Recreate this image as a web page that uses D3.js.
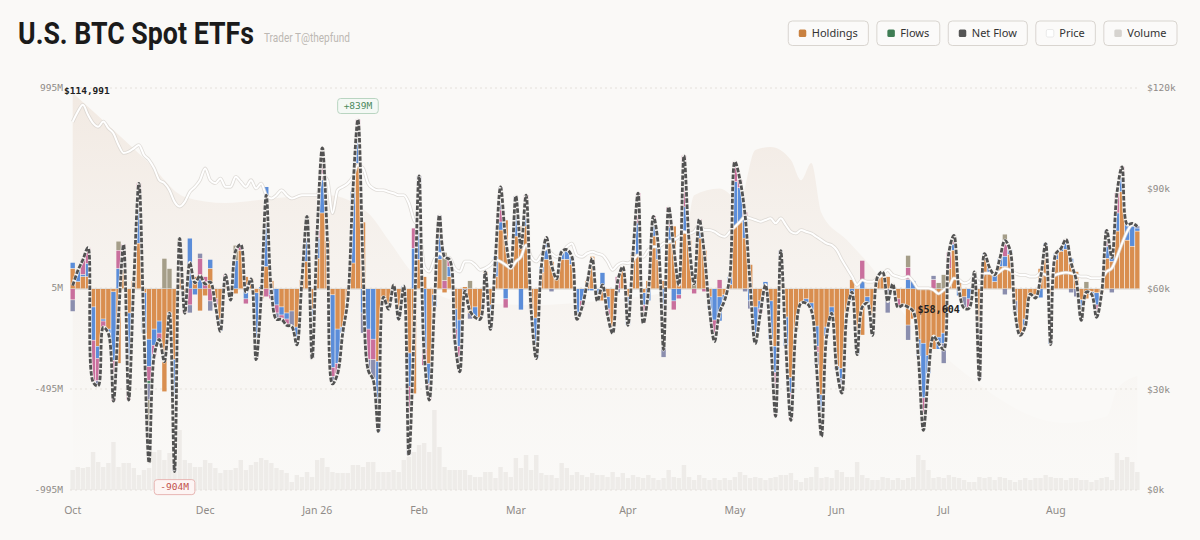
<!DOCTYPE html>
<html>
<head>
<meta charset="utf-8">
<title>U.S. BTC Spot ETFs</title>
<script src="https://cdn.jsdelivr.net/npm/d3@7"></script>
<style>
  html, body { margin: 0; padding: 0; background: #faf9f7; }
  svg { display: block; }
  .axis-label { font: 9.5px "DejaVu Sans Mono", monospace; fill: #8f8b87; }
  .month { font: 10.5px "Noto Sans", sans-serif; fill: #8f8b87; }
  .legend text { font: 11px "Noto Sans", sans-serif; fill: #333; }
</style>
</head>
<body>
<svg id="chart" width="1200" height="540"></svg>
<script>
// trading calendar
const startDay = '2025-10-23', endDay = '2026-08-25'
const holidays = ['2025-11-27', '2025-12-25', '2026-01-01', '2026-01-19', '2026-02-16',
                  '2026-04-03', '2026-05-25', '2026-06-19', '2026-07-03']
const monthLabels = [['2025-10', 'Oct'], ['2025-12', 'Dec'], ['2026-01', 'Jan 26'], ['2026-02', 'Feb'],
                     ['2026-03', 'Mar'], ['2026-04', 'Apr'], ['2026-05', 'May'], ['2026-06', 'Jun'],
                     ['2026-07', 'Jul'], ['2026-08', 'Aug']]

// daily flows per fund, $M
const ibit = [
  100, 35, 60, 60, -90, -285, -150, -200, -15, -370,
  120, -120, 40, 225, -20, -250, -200, -160, -510, -120,
  -350, 60, -100, 0, 60, -110, -35, 100, -50, -150,
  30, -45, -25, 190, 60, 50, -20, -50, 110, 40,
  0, -90, -120, -110, -190, 45, 135, -100, 150, 375,
  240, -30, -200, -190, -55, 127, 620, 330, 0, 0,
  -360, -40, -100, 20, -100, 0, -318, -520, 145, 60,
  -370, -30, 145, -20, 60, -100, -155, 10, -120, -90,
  -150, 85, -80, 60, 290, 340, 110, 260, 310, 310,
  -105, -145, 80, 145, 135, 50, 145, 145, 120, 0,
  0, 40, 160, 0, -60, -40, -220, 0, 110, -40,
  170, 170, -20, 40, 260, 145, 40, 225, 310, 70,
  275, 240, 0, 250, 190, -40, 0, -40, -30, 20,
  310, 330, 250, 120, -90, -60, -15, -60, -285, 150,
  -140, -440, -200, -70, -50, -70, -185, -525, -190, -90,
  -385, -395, -120, 45, -210, -230, -40, -200, 60, 70,
  60, 15, -50, -80, -180, -150, -250, -270, -330, -300,
  -240, -220, 100, 190, 30, -40, 0, 60, -185, 145,
  80, 35, 110, 110, 170, -60, -220, -150, -25, -30,
  100, 200, -130, 145, 185, 195, 125, 85, -55, -50,
  -15, -20, -20, 150, 135, 285, 480, 240, 210, 285
]
const fbtc = [
  30, 55, 10, 65, -165, -60, -10, -20, -340, 100,
  50, -250, 0, 165, -200, -135, -80, -60, 0, -100,
  -215, 80, 0, 250, -30, 50, 0, 45, 0, -60,
  0, 0, 140, 0, -50, 0, -230, 10, 395, -30,
  -80, -40, -30, 0, -87, 0, 105, -150, 100, 165,
  0, -360, -170, -30, 0, 355, 130, -120, -200, -250,
  -345, 0, 0, 0, -50, 15, -165, 200, 200, -300,
  -100, -60, 115, 0, 50, -100, -130, 0, 0, -50,
  0, 0, -60, 100, 40, -50, 0, 100, -105, 40,
  0, -200, 30, 80, 0, 0, 40, 50, 40, -120,
  -60, -10, -10, -40, 80, -60, 0, 0, 0, -140,
  10, 155, -60, -60, 65, 65, -280, 80, -60, -30,
  130, 0, 0, 50, 0, -60, -155, -120, -25, 40,
  220, 170, 100, -60, -180, -40, 35, -190, -130, 0,
  -145, -75, 0, 0, -20, -35, -100, -75, -45, -30,
  -15, -50, 0, -60, -115, 40, -30, 0, 0, 0,
  0, 10, 0, 0, 45, 40, -85, -270, -90, 0,
  -60, -50, 0, 30, -35, 0, -50, 0, -215, 30,
  25, 35, 40, 50, 25, 0, -10, -35, 0, 0,
  -45, 25, -145, 30, 15, 30, 25, 0, -65, 0,
  -10, -60, 0, 60, 40, 90, 75, 80, 100, 15
]
const arkb = [
  -55, 0, 75, 80, -205, -110, -30, 0, -200, 90,
  50, -180, 0, 133, 0, -70, -50, -30, 0, 0,
  -100, 0, -20, -80, 0, 100, 60, -60, -30, 0,
  40, 0, 0, 30, -25, 0, -60, 0, -40, -20,
  -40, -20, -30, 0, 0, 0, 85, -50, 40, 100,
  0, -45, -50, 0, 0, 0, 89, 0, -150, -100,
  0, 0, 0, 0, 0, 0, -150, 100, 115, -80,
  -80, 0, 50, 40, 35, -50, -50, 0, 0, 0,
  0, 0, 0, 0, 60, -45, 0, 0, 0, 115,
  0, 0, 0, 0, 0, 0, 0, 0, 0, 0,
  -30, 0, 0, -20, 0, -30, 0, 60, 0, 0,
  0, 150, -90, 0, 35, 0, 0, 100, -45, -20,
  255, 0, -25, 45, -15, 0, -65, 45, 0, 0,
  100, 40, 30, 0, 0, -20, 0, 0, -215, 0,
  0, -135, 0, 0, 0, 0, -30, 0, 0, 0,
  0, 0, 0, 0, 0, 100, 0, 0, 0, 0,
  0, 0, -40, 0, 60, 0, 0, -75, 0, 45,
  0, 0, 80, 20, 0, 0, -45, 0, 0, 0,
  0, 0, 0, 60, 0, 0, 0, 0, 0, -15,
  0, 0, 0, 0, 0, 20, 0, 0, 0, 0,
  0, -60, 0, 40, 0, 100, 50, 0, 0, 0
]
const hodl = [
  0, 0, 0, 0, 0, 0, 0, 0, 0, 0,
  0, 0, 0, 0, 0, -15, 0, 0, 0, 0,
  0, 0, 0, 0, 0, 0, 0, 0, 0, 0,
  0, 0, 0, 0, 0, 0, 0, 0, 0, 0,
  0, 0, 0, 0, 0, 0, 0, 0, 0, 0,
  0, 0, 0, 0, 0, 0, 0, 0, 0, 0,
  0, 0, 0, 0, 0, 0, 0, 0, 0, 0,
  0, 0, 0, 0, 0, 0, 0, 0, 0, 0,
  0, 0, 0, 0, 0, 0, 0, 0, 0, 0,
  0, 0, 0, 0, 0, 0, 0, 0, 0, 0,
  0, 0, 0, 0, 0, 0, 0, 0, 0, 0,
  0, 0, 0, 0, 0, 0, 0, 0, 0, 0,
  0, 0, 0, 0, 0, 0, 0, 0, 0, 0,
  0, 0, 0, 0, 0, 0, 0, 0, 0, 0,
  0, 0, 0, 0, 0, 0, 0, 0, 0, 0,
  0, 0, 0, 0, 0, 0, 0, 0, 0, 0,
  0, 0, 0, 0, 0, 0, 0, -85, 0, 0,
  0, 0, 0, 0, 0, 0, 0, 0, 0, 0,
  0, 0, 0, 0, 0, 0, 0, 0, 0, 0,
  0, 0, 0, 0, 0, 0, 0, 0, 0, 0,
  0, 0, 0, 0, 0, 0, 0, 0, 0, 0
]
const bitb = [
  -58, 0, 0, 0, 0, -25, 0, 0, 0, 0,
  0, 0, 0, 0, 0, -80, 0, 0, 0, 0,
  -239, 30, 0, -40, 0, 25, 0, -50, 0, 0,
  0, -10, 0, 0, 0, 0, -40, 0, 0, 0,
  -30, 0, 0, -75, 0, 0, 0, -45, 0, 0,
  0, -35, 0, 0, 0, 0, 0, -100, -50, -100,
  0, 0, 0, 0, 0, 0, -190, 0, 100, 0,
  0, 0, 55, 0, 0, 0, -75, -20, -30, 0,
  0, 0, -60, 0, 115, 0, 0, 100, 0, 0,
  0, 0, 0, 30, -15, 0, 0, 0, 0, -30,
  0, 0, 0, 0, 0, 0, 0, -20, 0, 0,
  0, 0, 0, 0, 0, 0, -60, 0, 0, 0,
  0, 0, 0, 0, 0, 0, -40, 0, 0, 0,
  0, 0, -15, -40, 0, 0, 0, 0, 0, 40,
  0, 0, 0, 0, 0, 0, -65, -130, 0, 0,
  0, -70, 0, 0, 0, 0, 0, -30, 0, 0,
  -120, 0, 0, 0, -75, 0, 0, 0, 0, 20,
  0, -100, 0, 0, 0, -55, 0, 0, -50, 0,
  0, 0, 0, -30, 0, -60, 0, 0, 0, 0,
  0, 0, 0, 0, 0, 0, -20, -40, -35, 0,
  0, 0, 0, 40, -20, 0, 0, 0, 15, 10
]
const gbtc = [
  0, 0, 0, 0, 0, 0, 0, 0, 0, 45,
  0, 0, 0, 0, 0, -310, 0, 0, 150, 100,
  0, 80, 0, 0, 0, 0, 0, 0, 0, 0,
  0, 0, 75, 0, 0, 0, 0, 0, 0, 0,
  0, 0, 0, 0, 0, 0, 35, 0, 0, 58,
  0, 0, 0, 0, 0, 0, 0, 0, 0, 0,
  0, 0, 0, 0, 0, 0, 0, 0, 0, 0,
  0, 0, 0, 140, 0, 0, 0, 0, 40, 0,
  0, 0, 0, 0, 0, 0, 0, 0, 0, 0,
  0, 0, 0, 0, 0, 0, 0, 0, 0, 0,
  0, 0, 0, 0, 0, 0, 0, 0, 0, 0,
  0, 0, 0, 0, 0, 0, 0, 0, 0, 0,
  0, 0, 50, 0, 0, 0, 0, 0, 0, 0,
  0, 0, 0, 0, 0, 0, 0, 0, 0, 0,
  0, 0, 0, 0, 0, 0, 0, 0, 0, 0,
  0, 0, 0, 0, 0, 0, 0, 0, 0, 15,
  0, 0, 0, 0, 60, 0, 0, 0, 0, 0,
  30, 70, 0, 25, 0, 0, 0, 25, 0, 0,
  0, 0, 0, 50, 0, 0, 0, 0, 0, 0,
  0, 0, 0, 0, 0, 0, 0, 0, 0, 35,
  0, 0, 0, 0, 0, 0, 0, 0, 0, 0
]

// BTC close, $k
const price = [
  109.9, 112.9, 114.991, 112.0, 109.5, 108.4, 110.0, 108.0, 106.5, 103.0,
  100.6, 101.0, 102.0, 103.0, 100.0, 98.5, 96.0, 92.5, 91.6, 89.5,
  86.0, 84.6, 86.0, 89.0, 90.5, 92.5, 96.0, 92.5, 91.6, 93.0,
  90.5, 90.5, 93.5, 92.0, 90.5, 92.5, 90.0, 91.5, 88.0, 87.0,
  88.0, 89.5, 88.0, 87.0, 87.5, 88.0, 88.0, 88.0, 88.0, 94.0,
  92.5, 82.6, 89.5, 90.5, 91.5, 93.5, 97.0, 96.0, 91.5, 90.0,
  89.5, 89.5, 89.0, 88.6, 88.0, 88.0, 85.6, 80.6, 78.6, 66.7,
  65.2, 68.7, 70.6, 69.6, 69.2, 66.2, 65.2, 68.2, 68.2, 67.2,
  65.7, 66.2, 67.2, 68.7, 68.2, 67.2, 66.2, 68.2, 69.6, 73.1,
  69.6, 68.2, 70.1, 72.1, 70.6, 69.6, 70.6, 72.6, 73.6, 70.1,
  69.6, 70.6, 71.1, 70.6, 70.1, 68.2, 65.7, 67.2, 67.9, 67.7,
  68.7, 70.1, 69.6, 71.6, 72.6, 72.6, 73.6, 74.1, 74.6, 75.6,
  77.1, 76.6, 77.1, 79.1, 77.6, 77.6, 77.1, 76.1, 75.6, 77.1,
  78.6, 80.1, 81.6, 81.1, 80.6, 80.1, 80.6, 81.1, 79.6, 81.1,
  79.1, 77.1, 76.6, 77.6, 77.1, 76.6, 75.6, 74.6, 73.6, 73.1,
  71.6, 68.7, 66.2, 63.7, 61.2, 62.7, 62.2, 62.2, 63.2, 64.2,
  65.7, 64.2, 63.7, 63.2, 63.7, 62.2, 60.2, 60.2, 60.2, 59.7,
  58.604, 59.7, 60.7, 63.2, 62.7, 61.7, 62.2, 63.7, 61.7, 64.7,
  64.7, 64.2, 65.2, 66.2, 65.7, 64.7, 64.2, 64.2, 63.7, 63.7,
  64.7, 64.2, 63.2, 64.2, 64.7, 64.9, 64.7, 64.2, 63.7, 63.7,
  63.2, 63.2, 63.2, 65.2, 66.2, 69.6, 73.6, 77.1, 79.1, 79.1
]

// traded volume, $B
const volume = [
  2.0, 2.3, 2.2, 2.3, 3.8, 2.8, 2.3, 2.7, 4.8, 2.3,
  2.7, 2.7, 2.2, 1.5, 2.0, 2.2, 3.8, 4.0, 3.0, 3.7,
  4.3, 6.0, 3.0, 2.7, 2.3, 2.3, 3.0, 2.7, 2.2, 1.7,
  2.0, 2.0, 2.2, 3.0, 2.0, 2.5, 2.8, 3.2, 3.0, 2.7,
  2.2, 2.0, 1.7, 0.8, 1.5, 1.3, 1.8, 1.3, 3.0, 3.2,
  2.3, 1.8, 1.7, 1.7, 1.7, 2.5, 2.5, 2.3, 2.8, 2.8,
  1.8, 1.8, 1.8, 2.0, 1.8, 3.0, 3.3, 3.8, 4.5, 4.7,
  3.8, 8.0, 4.3, 2.3, 2.0, 2.0, 2.0, 2.0, 1.5, 1.3,
  1.3, 1.8, 1.8, 1.2, 2.3, 1.8, 1.3, 3.2, 2.2, 3.5,
  2.0, 3.5, 1.7, 1.5, 1.5, 1.2, 2.7, 2.2, 1.5, 1.8,
  1.5, 1.3, 1.7, 1.5, 1.5, 1.3, 1.8, 1.3, 1.7, 1.2,
  1.5, 1.3, 1.2, 1.5, 1.2, 1.0, 1.2, 2.0, 1.3, 1.2,
  2.5, 1.3, 1.0, 1.5, 1.2, 1.0, 1.2, 1.0, 1.2, 1.0,
  1.3, 1.8, 1.5, 1.2, 1.3, 1.2, 1.0, 1.2, 1.3, 1.5,
  1.5, 1.7, 1.0, 0.8, 1.2, 1.3, 2.3, 1.2, 1.3, 1.2,
  2.0, 1.8, 1.3, 1.3, 2.8, 1.5, 1.2, 1.0, 1.0, 1.3,
  1.2, 1.0, 1.2, 1.0, 1.2, 1.3, 3.5, 3.0, 2.0, 1.2,
  1.3, 1.2, 1.5, 1.3, 1.2, 1.0, 0.8, 0.8, 1.3, 1.2,
  1.3, 1.0, 1.3, 1.2, 1.0, 0.8, 1.0, 1.2, 1.0, 1.2,
  1.2, 1.5, 1.3, 1.2, 1.2, 1.0, 1.2, 1.2, 1.0, 1.0,
  0.8, 1.0, 1.2, 1.3, 1.0, 3.7, 3.0, 3.3, 2.8, 1.8
]

// background holdings shade, read at a few days ($k on price axis)
const shadeDay = [0, 8, 15, 22, 30, 40, 50, 58, 62, 67, 75, 90, 105, 119, 122, 127, 131, 134, 137, 141, 143, 145, 147, 152, 158, 162, 175, 195, 203, 205, 209]
const shadeVal = [118.5, 107.5, 97.6, 87.5, 85.7, 87.2, 88.0, 82.7, 74.6, 64.2, 56.7, 55.2, 56.7, 60.0, 88.0, 90.0, 86.6, 101.5, 102.4, 98.5, 92.5, 97.6, 82.7, 74.6, 64.2, 55.0, 35.0, 20.0, 22.0, 30.0, 34.0]

const leftTicks = [995, 5, -495, -995]
const rightTicks = [0, 30, 60, 90, 120]

const keys = ['ibit', 'fbtc', 'arkb', 'hodl', 'bitb', 'gbtc']
const flows = {ibit, fbtc, arkb, hodl, bitb, gbtc}
const colors = {ibit: '#d98e4f', fbtc: '#5b8dd9', arkb: '#c96f9d', hodl: '#4f8d6c', bitb: '#8b8eae', gbtc: '#a59e89'}
const bg = '#faf9f7'

const fmtDay = d3.utcFormat('%Y-%m-%d'), fmtMonth = d3.utcFormat('%Y-%m')
const holidaySet = new Set(holidays)
const days = d3.utcDays(d3.utcParse('%Y-%m-%d')(startDay), d3.utcDay.offset(d3.utcParse('%Y-%m-%d')(endDay), 1))
    .filter(d => d.getUTCDay() % 6 !== 0 && !holidaySet.has(fmtDay(d)))
    .slice(0, ibit.length)

let rows = days.map((d, i) => {
    let r = {i, date: d}
    keys.forEach(k => r[k] = flows[k][i])
    r.net = d3.sum(keys, k => flows[k][i])
    return r
})

let svg = d3.select('#chart')
svg.append('rect').attr('width', 1200).attr('height', 540).attr('fill', bg)

let x = d3.scaleBand().domain(rows.map(r => r.i)).range([70.5, 1139.5]).paddingInner(0.14).paddingOuter(0)
let cx = i => x(i) + x.bandwidth() / 2
let yFlow = d3.scaleLinear().domain([-995, 995]).range([490, 88])
let yPrice = d3.scaleLinear().domain([0, 120]).range([490, 88])
let yVol = d3.scaleLinear().domain([0, 16]).range([490, 330])

// gradient for holdings shade
let defs = svg.append('defs')
let grad = defs.append('linearGradient').attr('id', 'shade')
    .attr('gradientUnits', 'userSpaceOnUse').attr('x1', 0).attr('x2', 0).attr('y1', 88).attr('y2', 490)
grad.append('stop').attr('offset', 0).attr('stop-color', '#ecdfd4').attr('stop-opacity', 0.6)
grad.append('stop').attr('offset', 0.5).attr('stop-color', '#f0e8e1').attr('stop-opacity', 0.35)
grad.append('stop').attr('offset', 1).attr('stop-color', '#f4efea').attr('stop-opacity', 0)

// grid
svg.append('g').selectAll('line').data(leftTicks).join('line')
    .attr('x1', 70).attr('x2', 1140)
    .attr('y1', d => yFlow(d)).attr('y2', d => yFlow(d))
    .attr('stroke', '#e4e0db').attr('stroke-dasharray', '2,3')

// holdings shade
let shade = shadeDay.map((d, k) => [d, shadeVal[k]])
svg.append('path').datum(shade)
    .attr('fill', 'url(#shade)')
    .attr('d', d3.area().x(d => cx(d[0])).y0(490).y1(d => yPrice(d[1])).curve(d3.curveMonotoneX))

// volume
svg.append('g').selectAll('rect').data(rows).join('rect')
    .attr('x', d => x(d.i)).attr('width', x.bandwidth())
    .attr('y', d => yVol(volume[d.i])).attr('height', d => 490 - yVol(volume[d.i]))
    .attr('fill', '#e6e3df').attr('opacity', 0.6)

// zero line
svg.append('line').attr('x1', 70).attr('x2', 1140).attr('y1', yFlow(0)).attr('y2', yFlow(0))
    .attr('stroke', '#d3cfca')

// stacked fund flows
let stacked = d3.stack().keys(keys).offset(d3.stackOffsetDiverging)(rows)
svg.append('g').selectAll('g').data(stacked).join('g')
    .attr('fill', s => colors[s.key])
    .selectAll('rect').data(s => s.filter(p => p[1] !== p[0])).join('rect')
    .attr('x', p => x(p.data.i)).attr('width', x.bandwidth())
    .attr('y', p => yFlow(Math.max(p[0], p[1])))
    .attr('height', p => Math.max(0.5, Math.abs(yFlow(p[0]) - yFlow(p[1])) - 0.6))

// price line
let priceLine = d3.line().x((d, i) => cx(i)).y(d => yPrice(d)).curve(d3.curveMonotoneX)
svg.append('path').datum(price).attr('d', priceLine)
    .attr('fill', 'none').attr('stroke', '#d8d4cf').attr('stroke-width', 3.6).attr('opacity', 0.8)
svg.append('path').datum(price).attr('d', priceLine)
    .attr('fill', 'none').attr('stroke', '#fff').attr('stroke-width', 2)

// net flow line
let netLine = d3.line().x(d => cx(d.i)).y(d => yFlow(d.net)).curve(d3.curveCatmullRom.alpha(0.5))
svg.append('path').datum(rows).attr('d', netLine)
    .attr('fill', 'none').attr('stroke', '#f4f2ef').attr('stroke-width', 3.8)
svg.append('path').datum(rows).attr('d', netLine)
    .attr('fill', 'none').attr('stroke', '#525252').attr('stroke-width', 2.8)
    .attr('stroke-dasharray', '4.5,1.6')

// axes labels
svg.append('g').selectAll('text').data(leftTicks).join('text')
    .attr('class', 'axis-label').attr('x', 63).attr('y', d => yFlow(d)).attr('dy', '0.35em')
    .attr('text-anchor', 'end').text(d => d + 'M')
svg.append('g').selectAll('text').data(rightTicks).join('text')
    .attr('class', 'axis-label').attr('x', 1147).attr('y', d => yPrice(d)).attr('dy', '0.35em')
    .text(d => '$' + d + 'k')
let monthIdx = monthLabels.map(([m, label]) => ({i: rows.find(r => fmtMonth(r.date) === m).i, label}))
svg.append('g').selectAll('text').data(monthIdx).join('text')
    .attr('class', 'month').attr('x', d => cx(d.i)).attr('y', 514)
    .attr('text-anchor', 'middle').text(d => d.label)

// extreme flow badges
let fmtFlow = v => (v > 0 ? '+' : '-') + Math.abs(Math.round(v)) + 'M'
function badge(i, yTop, stroke, fill, color) {
    let g = svg.append('g')
    let t = g.append('text').attr('x', cx(i)).attr('y', yTop + 7.5).attr('dy', '0.35em')
        .attr('text-anchor', 'middle').attr('fill', color)
        .style('font', '9.5px "DejaVu Sans Mono", monospace').text(fmtFlow(rows[i].net))
    let w = t.node().getComputedTextLength() + 12
    g.insert('rect', 'text').attr('x', cx(i) - w / 2).attr('y', yTop).attr('width', w).attr('height', 15)
        .attr('rx', 3).attr('fill', fill).attr('stroke', stroke)
}
let iMax = d3.maxIndex(rows, r => r.net), iMin = d3.minIndex(rows, r => r.net)
badge(iMax, yFlow(rows[iMax].net) - 21, '#b9d5c1', '#f4f9f5', '#4b8a5e')
badge(iMin, yFlow(rows[iMin].net) + 8, '#e8b7b4', '#fdf5f4', '#c2524c')

// extreme price labels
let fmtPrice = p => '$' + d3.format(',')(Math.round(p * 1000))
let pMax = d3.maxIndex(price), pMin = d3.minIndex(price)
let hi = svg.append('text').attr('y', yPrice(price[pMax]) - 14).attr('dy', '0.35em')
    .attr('fill', '#222')
    .style('font', 'bold 9.5px "DejaVu Sans Mono", monospace').text(fmtPrice(price[pMax]))
hi.attr('x', Math.max(64, cx(pMax) - hi.node().getComputedTextLength() / 2))
svg.append('text').attr('x', cx(pMin)).attr('y', yPrice(price[pMin]) + 16).attr('dy', '0.35em')
    .attr('text-anchor', 'middle').attr('fill', '#222')
    .style('font', 'bold 10px "DejaVu Sans Mono", monospace').text(fmtPrice(price[pMin]))

// title, squeezed to the reference width
let title = svg.append('text')
    .style('font', 'bold 32px Roboto, sans-serif').attr('fill', '#1b1b1b')
    .text('U.S. BTC Spot ETFs')
title.attr('transform', `translate(18,44) scale(${236 / title.node().getComputedTextLength()},1)`)
let sub = svg.append('text')
    .style('font', '12px Roboto, sans-serif').attr('fill', '#bcb8b3')
    .text('Trader T@thepfund')
sub.attr('transform', `translate(264,42) scale(${86 / sub.node().getComputedTextLength()},1)`)

// legend buttons
let legendItems = [
    {label: 'Holdings', color: '#c98140'},
    {label: 'Flows', color: '#3f7d54'},
    {label: 'Net Flow', color: '#555'},
    {label: 'Price', color: '#fff'},
    {label: 'Volume', color: '#d6d3cf'}
]
let legend = svg.append('g').attr('class', 'legend')
let items = legend.selectAll('g').data(legendItems).join('g')
items.append('rect').attr('class', 'btn').attr('y', 21).attr('height', 24.5).attr('rx', 4)
    .attr('fill', '#fbfaf9').attr('stroke', '#d9d5d0')
items.append('rect').attr('y', 29.5).attr('width', 7.5).attr('height', 7.5).attr('rx', 1.5)
    .attr('x', 10.5).attr('fill', d => d.color)
    .attr('stroke', d => d.label === 'Price' ? '#ddd' : 'none').attr('stroke-width', 0.6)
items.append('text').attr('x', 23.5).attr('y', 33.3).attr('dy', '0.35em').text(d => d.label)
let right = 1177
let widths = []
items.each(function (d) { widths.push(23.5 + d3.select(this).select('text').node().getComputedTextLength() + 10.5) })
let xs = []
for (let k = legendItems.length - 1; k >= 0; k--) {
    right -= widths[k]
    xs[k] = right
    right -= 8.5
}
items.attr('transform', (d, k) => `translate(${xs[k]},0)`)
items.select('.btn').attr('width', (d, k) => widths[k])
</script>
</body>
</html>
